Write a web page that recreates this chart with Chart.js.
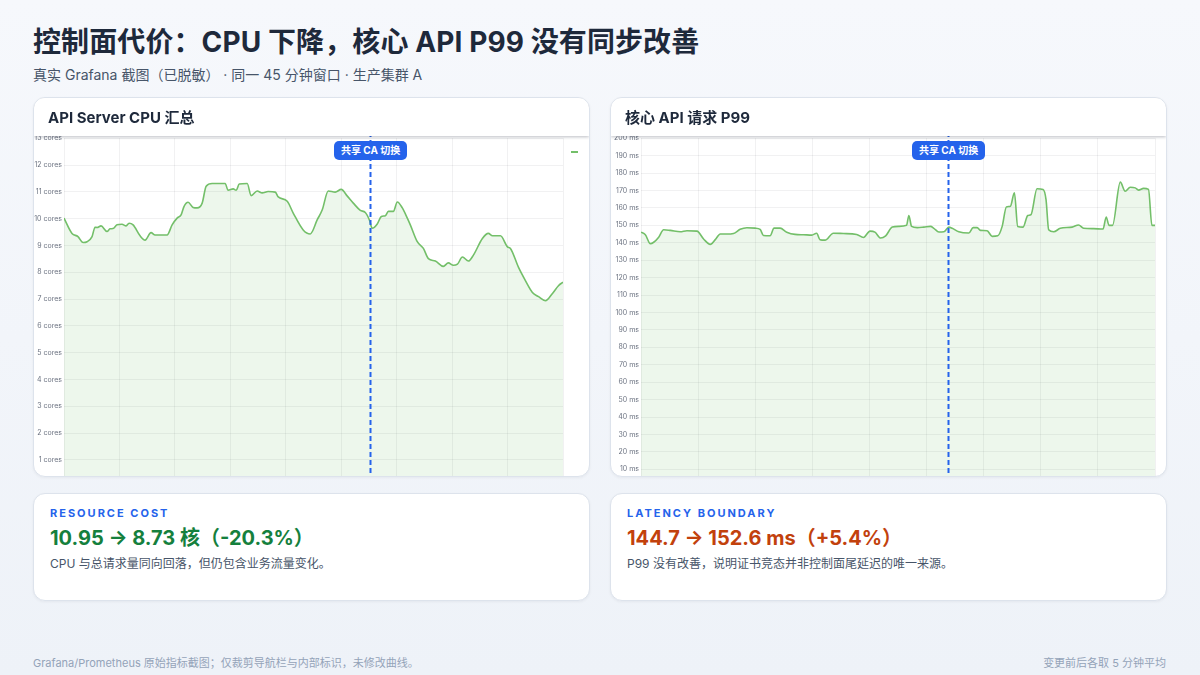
<!DOCTYPE html>
<html lang="zh-CN">
<head>
<meta charset="utf-8">
<title>控制面代价</title>
<script src="https://cdn.jsdelivr.net/npm/chart.js@4.4.1/dist/chart.umd.min.js"></script>
<style>
  * { box-sizing: border-box; margin: 0; padding: 0; }
  body {
    width: 1200px; height: 675px; overflow: hidden;
    font-family: Inter, "Noto Sans CJK SC", "Noto Sans", sans-serif;
    background: linear-gradient(180deg, #f6f8fc 0%, #eef2f8 100%);
    position: relative; color: #1e293b;
  }
  h1 { position: absolute; left: 33px; top: 20px; font-size: 28px; font-weight: 700; color: #1e293b; letter-spacing: 0.1px; }
  .sub { position: absolute; left: 33px; top: 64px; font-size: 14px; color: #475569; }
  .card {
    position: absolute; background: #fff; border: 1px solid #dde3ec; border-radius: 12px;
    overflow: hidden; box-shadow: 0 1px 3px rgba(15,23,42,0.05);
  }
  .panel { top: 97px; width: 557px; height: 380px; }
  .panel .head {
    position: relative; z-index: 3; height: 38px; background: #fff;
    padding: 8px 14px 0 14px; font-size: 15px; font-weight: 700; color: #1e293b;
    box-shadow: 0 1px 3px rgba(15,23,42,0.28);
  }
  .panel .body { position: absolute; left: 0; right: 0; top: 38px; bottom: 0; overflow: hidden; }
  .panel .wrap { position: absolute; left: 0; right: 0; top: -4px; height: 361px; }
  .badge {
    position: absolute; top: 5px; z-index: 2; background: #2563eb; color: #fff;
    font-size: 10px; font-weight: 700; line-height: 19px; height: 19px;
    padding: 0 7px; border-radius: 5px; white-space: nowrap;
  }
  .legend-dash { position: absolute; left: 537px; top: 15px; width: 7px; height: 2px; background: #73bf69; }
  .stat { top: 493px; width: 557px; height: 108px; padding: 12px 16px; }
  .stat .k { font-size: 11px; font-weight: 700; letter-spacing: 2px; color: #2563eb; }
  .stat .v { font-size: 20px; font-weight: 700; margin-top: 2px; }
  .stat .d { font-size: 12px; color: #475569; margin-top: 3px; }
  .foot { position: absolute; top: 654px; font-size: 11px; color: #94a3b8; }
</style>
</head>
<body>
<h1>控制面代价：CPU 下降，核心 API P99 没有同步改善</h1>
<div class="sub">真实 Grafana 截图（已脱敏） · 同一 45 分钟窗口 · 生产集群 A</div>

<div class="card panel" style="left:33px">
  <div class="head">API Server CPU 汇总</div>
  <div class="body">
    <div class="wrap"><canvas id="cpuChart"></canvas></div>
    <div class="badge" id="cpuBadge">共享 CA 切换</div>
    <div class="legend-dash"></div>
  </div>
</div>

<div class="card panel" style="left:610px">
  <div class="head">核心 API 请求 P99</div>
  <div class="body">
    <div class="wrap"><canvas id="p99Chart"></canvas></div>
    <div class="badge" id="p99Badge">共享 CA 切换</div>
  </div>
</div>

<div class="card stat" style="left:33px">
  <div class="k">RESOURCE COST</div>
  <div class="v" style="color:#15803d">10.95 → 8.73 核（-20.3%）</div>
  <div class="d">CPU 与总请求量同向回落，但仍包含业务流量变化。</div>
</div>

<div class="card stat" style="left:610px">
  <div class="k">LATENCY BOUNDARY</div>
  <div class="v" style="color:#c2410c">144.7 → 152.6 ms（+5.4%）</div>
  <div class="d">P99 没有改善，说明证书竞态并非控制面尾延迟的唯一来源。</div>
</div>

<div class="foot" style="left:33px">Grafana/Prometheus 原始指标截图；仅裁剪导航栏与内部标识，未修改曲线。</div>
<div class="foot" style="right:34px">变更前后各取 5 分钟平均</div>

<script>
// minutes into the 45 min window
const cpuTimes = [0, 0.72, 1.26, 1.72, 2.08, 2.53, 2.8, 2.98, 3.34, 3.88, 4.15, 4.42, 4.78, 5.23, 5.6, 5.87, 6.23,
  6.86, 7.31, 7.85, 8.21, 8.85, 9.3, 9.75, 10.2, 10.56, 10.83, 11.19, 11.64, 12.01, 12.46, 12.82, 13.36, 13.81,
  14.53, 14.8, 15.26, 15.53, 15.8, 16.52, 16.88, 17.42, 17.87, 18.41, 19.05, 19.32, 20.13, 20.67, 21.57, 22.21,
  22.84, 23.29, 23.83, 24.46, 25.0, 25.55, 26.09, 26.72, 27.17, 27.53, 27.8, 28.25, 28.62, 28.98, 29.25, 29.7,
  30.06, 30.51, 30.96, 31.23, 31.86, 32.41, 32.86, 33.49, 34.21, 34.66, 35.11, 35.48, 35.93, 36.47, 36.92, 37.73,
  38.27, 38.64, 39.36, 39.99, 40.26, 40.98, 41.61, 42.24, 42.79, 43.42, 44.05, 44.59, 45];
const cpuCores = [10.02, 9.45, 9.33, 9.11, 9.14, 9.33, 9.68, 9.67, 9.73, 9.52, 9.62, 9.63, 9.77, 9.79, 9.73, 9.83, 9.77,
  9.36, 9.2, 9.48, 9.39, 9.39, 9.39, 9.77, 10.02, 10.14, 10.46, 10.61, 10.42, 10.4, 10.58, 11.21, 11.31, 11.31,
  11.31, 11.06, 11.11, 11.06, 11.29, 11.31, 10.86, 11.03, 10.96, 11.01, 10.99, 10.81, 10.65, 10.21, 9.58, 9.43,
  9.96, 10.33, 11.03, 10.99, 11.09, 10.84, 10.58, 10.31, 10.23, 9.96, 9.64, 9.8, 10.08, 10.11, 10.27, 10.27,
  10.62, 10.4, 10.02, 9.77, 9.14, 8.89, 8.51, 8.42, 8.22, 8.35, 8.26, 8.3, 8.57, 8.42, 8.64, 9.26,
  9.45, 9.36, 9.36, 8.95, 8.89, 8.19, 7.69, 7.25, 7.09, 6.94, 7.21, 7.5, 7.63];

const p99Times = [0, 0.38, 0.82, 1.11, 1.55, 1.98, 2.57, 3.44, 4.02, 4.9, 5.48, 6.06, 6.5, 6.94, 7.52, 8.1, 8.68,
  9.27, 9.99, 10.43, 10.72, 11.3, 11.65, 12.18, 12.76, 13.49, 14.22, 14.95, 15.38, 15.67, 16.11, 16.84, 17.72,
  18.88, 19.47, 20.05, 20.48, 20.98, 21.42, 22.0, 22.58, 23.25, 23.45, 23.69, 24.19, 24.77, 25.35, 25.64, 26.08,
  26.51, 26.95, 27.25, 27.82, 28.7, 29.08, 29.43, 29.72, 30.3, 30.74, 31.23, 31.62, 31.99, 32.34, 32.69, 32.98,
  33.45, 33.86, 34.15, 34.67, 35.2, 35.46, 35.69, 36.13, 36.71, 37.74, 38.31, 38.75, 39.62, 40.45, 40.73, 40.97,
  41.28, 41.96, 42.39, 42.83, 43.27, 43.56, 44.0, 44.43, 44.73, 45];
const p99Ms = [146.1, 144.6, 139.5, 140.3, 143.2, 147.5, 147.1, 146.3, 146.9, 146.7, 142.2, 139.1, 141.8, 145.0, 145.0, 145.3, 147.7,
  148.6, 148.4, 147.7, 144.2, 144.0, 148.4, 148.4, 146.1, 144.8, 144.6, 144.4, 145.5, 141.8, 141.5, 145.5, 145.3,
  144.8, 143.0, 146.7, 146.1, 142.7, 144.0, 149.0, 149.4, 150.0, 155.6, 149.4, 148.7, 149.0, 149.4, 148.3, 146.2,
  146.3, 149.0, 148.3, 146.3, 145.6, 148.7, 148.7, 147.1, 146.9, 143.7, 144.0, 149.4, 160.6, 161.0, 168.7, 149.4,
  149.0, 155.6, 156.2, 171.0, 170.6, 164.8, 147.5, 146.3, 148.3, 149.0, 150.2, 148.3, 148.1, 147.9, 154.8, 150.0,
  150.0, 174.8, 169.6, 171.9, 171.5, 170.2, 171.2, 170.6, 150.0, 150.0];

const cpuSwitchAt = 27.62;
const p99SwitchAt = 26.84;

const GREEN = '#73bf69';

const switchLine = {
  id: 'switchLine',
  afterDatasetsDraw(chart, args, opts) {
    const { ctx } = chart;
    const x = Math.round(chart.scales.x.getPixelForValue(opts.at)) + 0.5;
    ctx.save();
    ctx.strokeStyle = '#2563eb';
    ctx.lineWidth = 2;
    ctx.setLineDash([5, 3]);
    ctx.beginPath();
    ctx.moveTo(x, 0);
    ctx.lineTo(x, chart.height);
    ctx.stroke();
    ctx.restore();
    const badge = document.getElementById(opts.badge);
    badge.style.left = (x - badge.offsetWidth / 2) + 'px';
  }
};

function makeChart(id, times, values, max, step, unit, padRight, switchAt, badgeId) {
  const ctx = document.getElementById(id).getContext('2d');
  return new Chart(ctx, {
    type: 'line',
    data: {
      datasets: [{
        data: times.map((t, i) => ({ x: t, y: values[i] })),
        borderColor: GREEN,
        backgroundColor: 'rgba(115,191,105,0.13)',
        borderWidth: 1.6,
        pointRadius: 0,
        fill: 'origin',
        cubicInterpolationMode: 'monotone'
      }]
    },
    options: {
      responsive: true,
      maintainAspectRatio: false,
      animation: false,
      layout: { padding: { top: 0, bottom: 0, left: 0, right: padRight } },
      plugins: {
        legend: { display: false },
        tooltip: { enabled: false },
        switchLine: { at: switchAt, badge: badgeId }
      },
      scales: {
        x: {
          type: 'linear', min: 0, max: 45,
          ticks: { display: false, stepSize: 5 },
          grid: { color: 'rgba(15,23,42,0.06)', drawTicks: false },
          border: { display: false }
        },
        y: {
          min: 0, max: max,
          afterFit: (s) => { s.width = 30; },
          ticks: {
            stepSize: step, padding: 2,
            color: '#6b7280',
            font: { size: 7, family: 'Inter, sans-serif' },
            callback: (v) => v === 0 ? '' : v + ' ' + unit
          },
          grid: { color: 'rgba(15,23,42,0.06)', drawTicks: false },
          border: { display: false }
        }
      }
    },
    plugins: [switchLine]
  });
}

makeChart('cpuChart', cpuTimes, cpuCores, 13, 1, 'cores', 26, cpuSwitchAt, 'cpuBadge');
makeChart('p99Chart', p99Times, p99Ms, 200, 10, 'ms', 11, p99SwitchAt, 'p99Badge');
</script>
</body>
</html>
